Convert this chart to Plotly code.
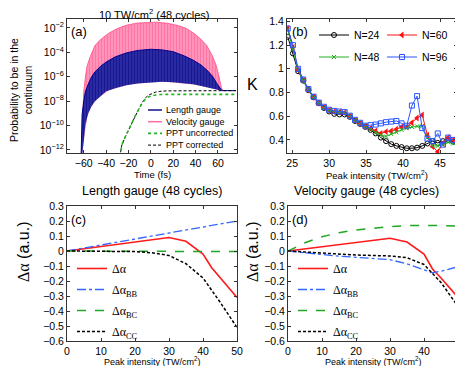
import plotly.graph_objects as go

# page is 463x366, the html body adds an 8px margin around the figure
OFF = 8
W, H = 463 - OFF, 366 - OFF

# ---- panel (a): probability vs time (log10 values) ----
vg_t = [-62.5, -61, -60, -58.5, -57, -54, -50, -45, -38, -30, -22, -12, 0, 5,
        15, 25, 32, 40, 45, 50, 55, 58.5, 61, 63, 64.5]
vg_upper = [-13, -9.0, -7.2, -6.0, -5.1, -4.3, -3.45, -2.95, -2.45, -2.05, -1.78,
            -1.6, -1.53, -1.53, -1.62, -1.82, -2.05, -2.55, -2.95, -3.45, -4.3,
            -5.1, -6.0, -6.9, -7.15]
vg_lower = [-13, -12, -11, -9.9, -9.3, -8.6, -8.0, -7.6, -7.15, -6.9, -6.7, -6.55,
            -6.45, -6.43, -6.43, -6.5, -6.55, -6.65, -6.75, -6.85, -6.95, -7.05,
            -7.1, -7.13, -7.14]

lg_t = [-62.5, -62, -61.5, -60, -58.5, -56, -53, -50, -45, -40, -32, -22, -12, 0,
        10, 20, 30, 38, 45, 50, 55, 59, 62, 63.5, 76]
lg_upper = [-13, -11, -9.1, -8.0, -7.2, -6.6, -6.0, -5.6, -5.15, -4.8, -4.38, -4.05,
            -3.85, -3.75, -3.8, -3.95, -4.3, -4.65, -5.05, -5.45, -5.95, -6.55,
            -6.95, -7.14, -7.14]
lg_lower = [-13, -13, -12.5, -11, -9.9, -9.0, -8.4, -8.0, -7.6, -7.2, -6.95, -6.7,
            -6.55, -6.45, -6.42, -6.45, -6.52, -6.62, -6.75, -6.85, -6.95, -7.05,
            -7.12, -7.14, -7.14]

ppt_t = [-28.5, -26, -23, -20, -17, -14, -11, -8, -5, -2, 1, 4, 8, 14, 76]
ppt_unc = [-13, -11.6, -10.95, -10.35, -9.75, -9.2, -8.7, -8.2, -7.85, -7.65, -7.55,
           -7.49, -7.46, -7.45, -7.45]
ppt_cor = [-13, -11.6, -10.95, -10.35, -9.75, -9.2, -8.68, -8.15, -7.75, -7.5, -7.35,
           -7.27, -7.2, -7.16, -7.14]

a_yticks = [-12, -10, -8, -6, -4, -2]
a_xticks = [-60, -40, -20, 0, 20, 40, 60]

# ---- panel (b): K vs peak intensity ----
intensity = [24.4, 25.1, 25.8, 26.5, 27.2, 27.9, 28.6, 29.3, 30.0, 30.7, 31.4, 32.1,
             32.8, 33.5, 34.2, 34.9, 35.6, 36.3, 37.0, 37.7, 38.4, 39.1, 39.8, 40.5,
             41.2, 41.9, 42.6, 43.3, 44.0, 44.7, 45.4, 46.1, 46.8]
k_n24 = [1.27, 1.13, 0.98, 0.90, 0.82, 0.76, 0.71, 0.67, 0.64, 0.62, 0.615, 0.615,
         0.595, 0.56, 0.535, 0.51, 0.485, 0.455, 0.42, 0.39, 0.365, 0.35, 0.34, 0.33,
         0.33, 0.335, 0.35, 0.37, 0.39, 0.375, 0.39, 0.40, 0.385]
k_n48 = [1.33, 1.17, 0.99, 0.90, 0.82, 0.76, 0.71, 0.675, 0.65, 0.64, 0.635, 0.63,
         0.60, 0.565, 0.54, 0.515, 0.49, 0.46, 0.44, 0.43, 0.45, 0.465, 0.485, 0.50,
         0.51, 0.515, 0.52, 0.42, 0.35, 0.35, 0.36, 0.38, 0.37]
k_n60 = [1.34, 1.18, 0.99, 0.90, 0.82, 0.76, 0.71, 0.675, 0.65, 0.64, 0.635, 0.63,
         0.60, 0.565, 0.54, 0.515, 0.50, 0.475, 0.455, 0.47, 0.475, 0.49, 0.51, 0.51,
         0.545, 0.585, 0.61, 0.44, 0.345, 0.30, 0.37, 0.42, 0.40]
k_n96 = [1.34, 1.20, 1.0, 0.91, 0.83, 0.765, 0.715, 0.68, 0.655, 0.645, 0.64, 0.635,
         0.605, 0.57, 0.545, 0.52, 0.525, 0.53, 0.54, 0.55, 0.555, 0.56, 0.54, 0.52,
         0.69, 0.77, 0.50, 0.41, 0.39, 0.455, 0.36, 0.42, 0.40]

# ---- panels (c) and (d): polarizability change ----
peak = [0, 5, 10, 15, 20, 25, 30, 35, 40, 42.5, 45, 50]
c_da = [0, 0.015, 0.03, 0.045, 0.06, 0.075, 0.09, 0.065, -0.02, -0.11, -0.175, -0.31]
c_bb = [0, 0.02, 0.04, 0.06, 0.08, 0.10, 0.12, 0.14, 0.16, 0.168, 0.178, 0.20]
c_bc = [0, 0, 0, -0.001, -0.002, -0.003, -0.003, -0.004, -0.004, -0.004, -0.004, -0.004]
c_cc = [0, 0, 0, -0.001, -0.004, -0.012, -0.03, -0.085, -0.18, -0.26, -0.34, -0.51]

d_da = [0, 0.015, 0.03, 0.045, 0.06, 0.073, 0.085, 0.06, -0.02, -0.12, -0.18, -0.31]
d_bb = [0, -0.012, -0.025, -0.035, -0.042, -0.05, -0.058, -0.085, -0.125, -0.145,
        -0.135, -0.105]
d_bc = [0, 0.055, 0.095, 0.122, 0.14, 0.152, 0.162, 0.17, 0.172, 0.171, 0.17, 0.165]
d_cc = [0, -0.008, -0.016, -0.022, -0.027, -0.03, -0.033, -0.045, -0.09, -0.15, -0.21,
        -0.37]

da_names = ["Δα", "Δα<sub>BB</sub>", "Δα<sub>BC</sub>", "Δα<sub>CC</sub>"]


def px(x):
    # page pixel -> paper fraction
    return (x - OFF) / W


def py(y):
    return 1 - (y - OFF) / H


def lin(v):
    return [10 ** e for e in v]


fig = go.Figure()

# (a) velocity gauge band, then length gauge band on top
fig.add_trace(go.Scatter(x=vg_t, y=lin(vg_lower), mode="lines", line=dict(width=0),
                         showlegend=False, hoverinfo="skip"))
fig.add_trace(go.Scatter(
    x=vg_t, y=lin(vg_upper), mode="lines", fill="tonexty", name="Velocity gauge",
    line=dict(color="#ff4d88", width=0.8), fillcolor="#ff7aa8",
    fillpattern=dict(shape="|", size=3, solidity=0.5, fgcolor="#ff4d88", bgcolor="#ff9dc0"),
    showlegend=False))
fig.add_trace(go.Scatter(x=lg_t, y=lin(lg_lower), mode="lines", line=dict(width=0),
                         showlegend=False, hoverinfo="skip"))
fig.add_trace(go.Scatter(
    x=lg_t, y=lin(lg_upper), mode="lines", fill="tonexty", name="Length gauge",
    line=dict(color="#00008b", width=1), fillcolor="#14148f",
    fillpattern=dict(shape="|", size=3, solidity=0.5, fgcolor="#00007a", bgcolor="#3030a8"),
    showlegend=False))
fig.add_trace(go.Scatter(x=ppt_t, y=lin(ppt_cor), mode="lines", name="PPT corrected",
                         line=dict(color="black", width=1, dash="3px,2px"), showlegend=False))
fig.add_trace(go.Scatter(x=ppt_t, y=lin(ppt_unc), mode="lines", name="PPT uncorrected",
                         line=dict(color="#1fb31f", width=1.6, dash="dot"), showlegend=False))

# (b)
b_series = [
    ("N=24", k_n24, "black", dict(symbol="circle-open", size=5, line=dict(width=1)), "legend2"),
    ("N=60", k_n60, "#ff1010", dict(symbol="triangle-left", size=6), "legend2"),
    ("N=48", k_n48, "#22b022", dict(symbol="x-thin-open", size=4, line=dict(width=1)), "legend3"),
    ("N=96", k_n96, "#2a55ff", dict(symbol="square-open", size=5, line=dict(width=1)), "legend3"),
]
for name, vals, col, mk, leg in b_series:
    mk = dict(mk, color=col)
    fig.add_trace(go.Scatter(x=intensity, y=vals, mode="lines+markers", name=name,
                             line=dict(color=col, width=1), marker=mk,
                             xaxis="x2", yaxis="y2", legend=leg))

# (c) and (d)
styles = [("#ff1a1a", "solid", 1.6), ("#3366ff", "dashdot", 1.3),
          ("#1fa81f", "dash", 1.5), ("black", "3px,2px", 1.5)]
for ax, leg, series in (("3", "legend4", [c_da, c_bb, c_bc, c_cc]),
                        ("4", "legend5", [d_da, d_bb, d_bc, d_cc])):
    for i, vals in enumerate(series):
        col, dash, w = styles[i]
        fig.add_trace(go.Scatter(x=peak, y=vals, mode="lines", name=da_names[i],
                                 line=dict(color=col, dash=dash, width=w),
                                 xaxis="x" + ax, yaxis="y" + ax, legend=leg,
                                 legendgroup=ax + str(i)))

ax_style = dict(showline=True, linecolor="#333", linewidth=1, mirror="ticks",
                ticks="inside", ticklen=3, tickcolor="#333", showgrid=False,
                zeroline=False, tickfont=dict(size=10.5, color="black"))

top = [py(153), py(19)]
bot = [py(341), py(206)]

fig.update_layout(
    width=W, height=H, margin=dict(l=0, r=0, t=0, b=0, autoexpand=False),
    paper_bgcolor="white", plot_bgcolor="white",
    font=dict(family="Liberation Sans", color="black"),
    xaxis=dict(ax_style, domain=[px(67), px(237)], range=[-75, 77], tickvals=a_xticks,
               anchor="y"),
    yaxis=dict(ax_style, domain=top, type="log", range=[-12.25, -1.27],
               tickvals=[10 ** e for e in a_yticks],
               ticktext=["10<sup>−%d</sup>" % -e for e in a_yticks], anchor="x"),
    xaxis2=dict(ax_style, domain=[px(287), px(457)], range=[24.3, 47.3], dtick=5,
                anchor="y2"),
    yaxis2=dict(ax_style, domain=top, range=[0.29, 1.42], dtick=0.2, anchor="x2"),
    xaxis3=dict(ax_style, domain=[px(67), px(237)], range=[0, 50], dtick=10, anchor="y3"),
    yaxis3=dict(ax_style, domain=bot, range=[-0.6, 0.3], dtick=0.1, anchor="x3"),
    xaxis4=dict(ax_style, domain=[px(288), px(458)], range=[0, 50], dtick=10, anchor="y4"),
    yaxis4=dict(ax_style, domain=bot, range=[-0.6, 0.3], dtick=0.1, anchor="x4"),
    legend2=dict(x=px(314), y=py(35), xanchor="left", yanchor="middle", orientation="h",
                 entrywidth=23, font=dict(size=10.5), bgcolor="rgba(0,0,0,0)"),
    legend3=dict(x=px(314), y=py(57), xanchor="left", yanchor="middle", orientation="h",
                 entrywidth=23, font=dict(size=10.5), bgcolor="rgba(0,0,0,0)"),
    legend4=dict(x=px(72), y=py(300), xanchor="left", yanchor="middle",
                 traceorder="grouped", tracegroupgap=2, bgcolor="rgba(0,0,0,0)",
                 font=dict(family="Liberation Serif", size=12)),
    legend5=dict(x=px(293), y=py(300), xanchor="left", yanchor="middle",
                 traceorder="grouped", tracegroupgap=2, bgcolor="rgba(0,0,0,0)",
                 font=dict(family="Liberation Serif", size=12)),
)

ann = []


def text(x, y, s, size, angle=0, xanchor="center", family=None):
    f = dict(size=size, color="black")
    if family:
        f["family"] = family
    ann.append(dict(x=px(x), y=py(y), xref="paper", yref="paper", text=s, showarrow=False,
                    font=f, textangle=angle, xanchor=xanchor, yanchor="middle"))


text(154, 13.5, "10 TW/cm<sup>2</sup> (48 cycles)", 11)
text(152, 191, "Length gauge (48 cycles)", 12.5)
text(366, 191, "Velocity gauge (48 cycles)", 12.5)
text(21, 90, "Probability to be in the<br>continuum", 10.5, angle=-90)
text(252, 84, "K", 16)
dalpha = '<span style="font-family:Liberation Serif">Δα</span> (a.u.)'
text(24, 252, dalpha, 16, angle=-90)
text(253, 252, dalpha, 16, angle=-90)
text(152, 174, "Time (fs)", 9.5)
text(377, 175, "Peak intensity (TW/cm<sup>2</sup>)", 9.5)
text(152, 361, "Peak intensity (TW/cm<sup>2</sup>)", 9)
text(373, 361, "Peak intensity (TW/cm<sup>2</sup>)", 9)
text(69, 31, "(a)", 13, xanchor="left")
text(290, 31, "(b)", 13, xanchor="left")
text(69, 219, "(c)", 13, xanchor="left")
text(290, 219, "(d)", 13, xanchor="left")

# manual legend for (a), entries are tighter than plotly's legend rows
a_legend = [("Length gauge", "#10108c", "solid", 1.5),
            ("Velocity gauge", "#ff6f9f", "solid", 1.5),
            ("PPT uncorrected", "#1fb31f", "dot", 1.6),
            ("PPT corrected", "black", "3px,2px", 1)]
shapes = []
for i, (lab, col, dash, w) in enumerate(a_legend):
    yy = 110 + i * 11.7
    shapes.append(dict(type="line", xref="paper", yref="paper", x0=px(148), x1=px(162),
                       y0=py(yy), y1=py(yy), line=dict(color=col, dash=dash, width=w)))
    text(164, yy, lab, 9, xanchor="left")

fig.update_layout(annotations=ann, shapes=shapes)

fig.write_html("out.html")
